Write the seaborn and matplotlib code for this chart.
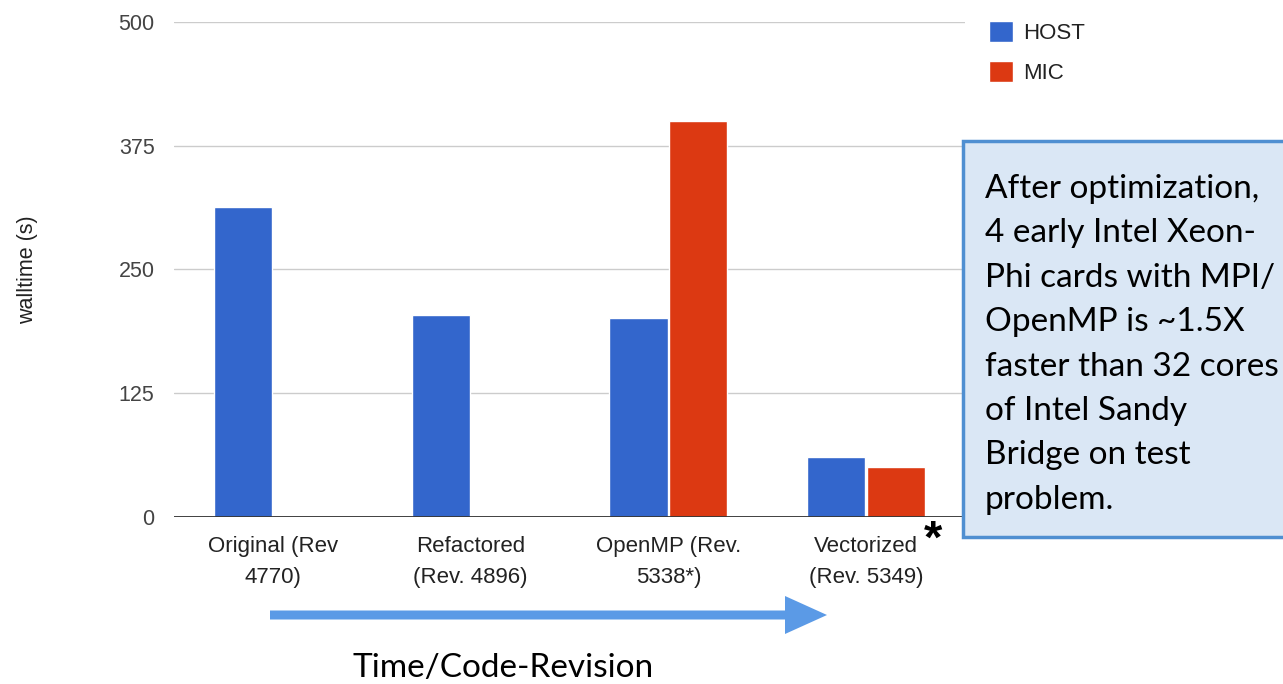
import numpy as np
import pandas as pd
import matplotlib
matplotlib.use("Agg")
import matplotlib.pyplot as plt
import seaborn as sns
from matplotlib.patches import FancyArrow, Rectangle

# --- data ---
revisions = ["Original (Rev\n4770)", "Refactored\n(Rev. 4896)", "OpenMP (Rev.\n5338*)", "Vectorized\n(Rev. 5349)"]
host_walltime = [313, 204, 201, 61]
mic_walltime = [np.nan, np.nan, 400, 50]
series = ["HOST", "MIC"]
y_ticks = [0, 125, 250, 375, 500]

note = ("After optimization,\n4 early Intel Xeon-\nPhi cards with MPI/\nOpenMP is ~1.5X\n"
        "faster than 32 cores\nof Intel Sandy\nBridge on test\nproblem.")

df = pd.DataFrame({
    "revision": revisions * 2,
    "walltime": host_walltime + mic_walltime,
    "target": [series[0]] * 4 + [series[1]] * 4,
})

sns.set_theme(style="white")
plt.rcParams["font.family"] = ["Liberation Sans", "DejaVu Sans"]

fig = plt.figure(figsize=(12.83, 6.84), dpi=100)
ax = fig.add_axes([0.1356, 0.2442, 0.6165, 0.7236])

palette = {"HOST": "#3366cc", "MIC": "#dc3912"}
sns.barplot(data=df, x="revision", y="walltime", hue="target", order=revisions,
            hue_order=series, palette=palette, width=0.605, gap=0.025,
            saturation=1, ax=ax, legend=True)

ax.set_ylim(0, 500)
ax.set_xlim(-0.5, 3.5)
ax.set_yticks(y_ticks)
ax.set_yticklabels([str(t) for t in y_ticks], fontsize=15.5, color="#444444")
ax.tick_params(axis="y", length=0, pad=14)
ax.tick_params(axis="x", length=0, pad=14, labelsize=16, labelcolor="#222222")
for lbl in ax.get_xticklabels():
    lbl.set_linespacing(1.6)
ax.yaxis.grid(True, color="#cccccc", linewidth=1)
ax.set_axisbelow(True)
ax.axhline(0, color="#333333", linewidth=1.3, zorder=5)
for s in ax.spines.values():
    s.set_visible(False)
ax.set_xlabel("")
ax.set_ylabel("walltime (s)", fontsize=15.5, color="#222222", labelpad=58)

handles, labels = ax.get_legend_handles_labels()
ax.legend(handles, labels, loc="upper left", bbox_to_anchor=(0.7555, 0.998),
          bbox_transform=fig.transFigure, frameon=False, fontsize=16,
          handlelength=1.05, handleheight=1.05, handletextpad=0.45, labelspacing=0.75,
          labelcolor="#222222")

# asterisk next to "Vectorized"
fig.text(933 / 1283, 1 - 541 / 684, "*", fontsize=34, fontweight="bold", color="black",
         ha="center", va="center")

# note box
fig.patches.append(Rectangle((963 / 1283, 1 - 537 / 684), 0.3, 396 / 684,
                             transform=fig.transFigure, facecolor="#dae7f5",
                             edgecolor="#4f8fd1", linewidth=2.5, zorder=0))
fig.text(985 / 1283, 1 - 174 / 684, note, fontsize=24, family=["Lato", "DejaVu Sans"],
         color="black", ha="left", va="top", linespacing=1.6)

# time arrow
fig.patches.append(FancyArrow(270 / 1283, 1 - 615 / 684, 515 / 1283, 0,
                              width=9 / 684, head_width=38 / 684, head_length=42 / 1283,
                              length_includes_head=False, transform=fig.transFigure,
                              color="#5b9ae6", linewidth=0))
fig.text(503 / 1283, 1 - 668 / 684, "Time/Code-Revision", fontsize=24,
         family=["Lato", "DejaVu Sans"], color="black", ha="center", va="center")

fig.savefig("out.png", dpi=100)
